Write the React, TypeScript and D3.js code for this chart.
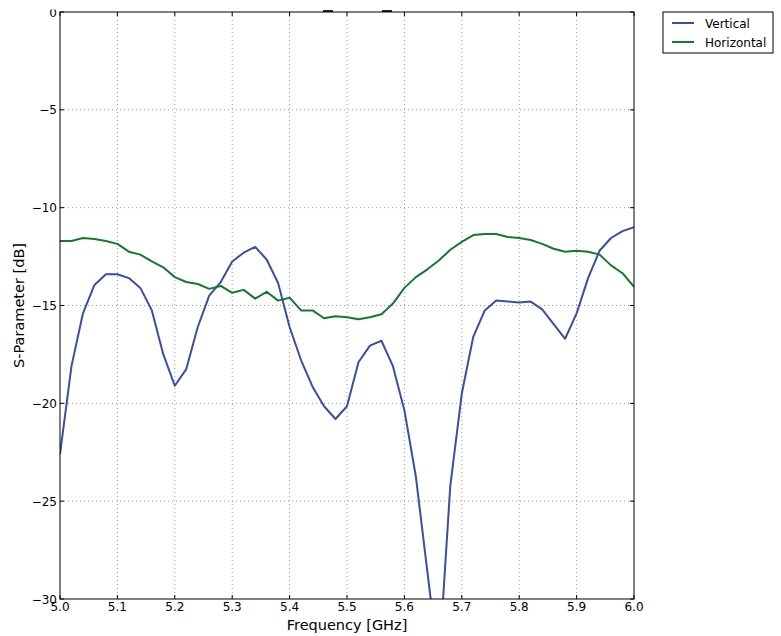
import * as d3 from 'd3';

// frequency grid (GHz)
const freqs = [
    5.0, 5.02, 5.04, 5.06, 5.08, 5.1, 5.12, 5.14, 5.16, 5.18, 5.2, 5.22, 5.24, 5.26, 5.28,
    5.3, 5.32, 5.34, 5.36, 5.38, 5.4, 5.42, 5.44, 5.46, 5.48, 5.5, 5.52, 5.54, 5.56, 5.58,
    5.6, 5.62, 5.64, 5.66, 5.68, 5.7, 5.72, 5.74, 5.76, 5.78, 5.8, 5.82, 5.84, 5.86, 5.88,
    5.9, 5.92, 5.94, 5.96, 5.98, 6.0,
];

const vertical = [
    -22.6, -18.1, -15.4, -13.95, -13.4, -13.4, -13.6, -14.1, -15.25, -17.5, -19.1, -18.25,
    -16.1, -14.5, -13.8, -12.75, -12.3, -12.0, -12.65, -13.85, -16.1, -17.8, -19.15, -20.15,
    -20.8, -20.15, -17.9, -17.05, -16.8, -18.1, -20.35, -23.75, -28.6, -33.4, -24.2, -19.5,
    -16.6, -15.25, -14.75, -14.8, -14.85, -14.8, -15.2, -15.95, -16.7, -15.4, -13.6, -12.2,
    -11.55, -11.2, -11.0,
];

const horizontal = [
    -11.7, -11.7, -11.55, -11.6, -11.7, -11.85, -12.25, -12.4, -12.75, -13.05, -13.55, -13.8,
    -13.9, -14.15, -14.0, -14.35, -14.2, -14.65, -14.3, -14.75, -14.6, -15.25, -15.25, -15.65,
    -15.55, -15.6, -15.7, -15.6, -15.45, -14.9, -14.1, -13.55, -13.15, -12.7, -12.15, -11.75,
    -11.4, -11.35, -11.35, -11.5, -11.55, -11.65, -11.85, -12.1, -12.25, -12.2, -12.25, -12.4,
    -12.95, -13.35, -14.05,
];

const xTicks = [5.0, 5.1, 5.2, 5.3, 5.4, 5.5, 5.6, 5.7, 5.8, 5.9, 6.0];
const yTicks = [0, -5, -10, -15, -20, -25, -30];

const series = [
    { name: 'Vertical', values: vertical, color: '#3a4ea6' },
    { name: 'Horizontal', values: horizontal, color: '#17792f' },
];

const W = 781;
const H = 636;
const left = 60;
const right = 634;
const top = 12;
const bottom = 599;
const font = '"DejaVu Sans", sans-serif';

export default function App() {
    const x = d3.scaleLinear().domain([5.0, 6.0]).range([left, right]);
    const y = d3.scaleLinear().domain([-30, 0]).range([bottom, top]);

    const line = d3
        .line<number>()
        .x((_, i) => x(freqs[i]))
        .y((d) => y(d));

    const fmt = (v: number) => (v < 0 ? `\u2212${Math.abs(v)}` : `${v}`);

    return (
        <svg
            width={W}
            height={H}
            style={{ position: 'absolute', left: 0, top: 0, background: '#fff' }}
        >
            <defs>
                <clipPath id="plot-clip">
                    <rect x={left} y={top} width={right - left} height={bottom - top} />
                </clipPath>
                <clipPath id="page-clip">
                    <rect x={0} y={9.5} width={W} height={H} />
                </clipPath>
            </defs>
            <rect width={W} height={H} fill="#fff" />

            {/* remnants of the cut-off title */}
            <rect x={323} y={10} width={10} height={2} fill="#222" />
            <rect x={382} y={10} width={10} height={2} fill="#222" />

            {/* grid */}
            <g stroke="#9a9a9a" strokeWidth={1} strokeDasharray="1,3">
                {xTicks.slice(1, -1).map((t) => (
                    <line key={t} x1={x(t)} x2={x(t)} y1={top} y2={bottom} />
                ))}
                {yTicks.slice(1, -1).map((t) => (
                    <line key={t} x1={left} x2={right} y1={y(t)} y2={y(t)} />
                ))}
            </g>

            {/* data */}
            <g clipPath="url(#plot-clip)" fill="none" strokeWidth={2} strokeLinejoin="round">
                {series.map((s) => (
                    <path key={s.name} d={line(s.values) ?? ''} stroke={s.color} />
                ))}
            </g>

            {/* ticks, inside on all four sides */}
            <g stroke="#000" strokeWidth={1}>
                {xTicks.map((t) => (
                    <g key={t}>
                        <line x1={x(t)} x2={x(t)} y1={bottom} y2={bottom - 4} />
                        <line x1={x(t)} x2={x(t)} y1={top} y2={top + 4} />
                    </g>
                ))}
                {yTicks.map((t) => (
                    <g key={t}>
                        <line x1={left} x2={left + 4} y1={y(t)} y2={y(t)} />
                        <line x1={right} x2={right - 4} y1={y(t)} y2={y(t)} />
                    </g>
                ))}
            </g>
            <rect
                x={left}
                y={top}
                width={right - left}
                height={bottom - top}
                fill="none"
                stroke="#000"
                strokeWidth={1}
            />

            {/* tick labels */}
            <g fontFamily={font} fontSize={12} fill="#000" clipPath="url(#page-clip)">
                {xTicks.map((t) => (
                    <text key={t} x={x(t)} y={bottom + 12} textAnchor="middle">
                        {t.toFixed(1)}
                    </text>
                ))}
                {yTicks.map((t) => (
                    <text key={t} x={left - 3} y={y(t) + 4.5} textAnchor="end">
                        {fmt(t)}
                    </text>
                ))}
            </g>

            {/* axis labels */}
            <text
                x={(left + right) / 2}
                y={630}
                textAnchor="middle"
                fontFamily={font}
                fontSize={14.5}
            >
                Frequency [GHz]
            </text>
            <text
                transform={`translate(24,${(top + bottom) / 2}) rotate(-90)`}
                textAnchor="middle"
                fontFamily={font}
                fontSize={14.5}
            >
                S-Parameter [dB]
            </text>

            {/* legend */}
            <g transform="translate(663,12)">
                <rect width={110} height={41} fill="#fff" stroke="#000" strokeWidth={1} />
                {series.map((s, i) => (
                    <g key={s.name} transform={`translate(0,${11 + i * 19})`}>
                        <line x1={9} x2={31} y1={0} y2={0} stroke={s.color} strokeWidth={2} />
                        <text x={42} y={4.5} fontFamily={font} fontSize={12}>
                            {s.name}
                        </text>
                    </g>
                ))}
            </g>
        </svg>
    );
}
